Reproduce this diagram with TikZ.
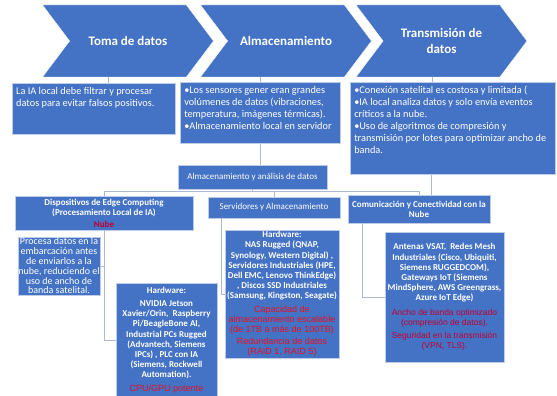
\documentclass[tikz,border=0pt]{standalone}
\usepackage{fontspec}
\setmainfont{Carlito}
\newfontfamily\arialfont{Liberation Sans}
\usepackage{tikz}
\usetikzlibrary{shapes.symbols}
\definecolor{officeblue}{RGB}{68,114,196}
\definecolor{boxedge}{RGB}{190,204,230}
\definecolor{linkgray}{RGB}{172,186,212}
\definecolor{alertred}{RGB}{232,16,32}
\definecolor{nubered}{RGB}{196,0,48}

\begin{document}
\begin{tikzpicture}
[x=1pt,y=-1pt,
 chev/.style={signal,signal to=east,signal from=west,signal pointer angle=106,
   fill=officeblue,draw=white,minimum width=171,minimum height=72,inner sep=0pt,
   text=white,align=center,font=\bfseries\fontsize{13}{15.5}\selectfont},
 panel/.style={rectangle,fill=officeblue,draw=boxedge,line width=0.5pt,text=white,inner sep=0pt},
 note/.style={panel,anchor=north west,inner sep=4pt,font=\fontsize{10.3}{12}\selectfont},
 head/.style={panel,align=center,font=\fontsize{9}{10.5}\selectfont},
 hw/.style={panel,align=center,font=\bfseries\fontsize{9}{10.2}\selectfont},
 link/.style={draw=linkgray,line width=0.7pt},]

%Top-aligned text inside the notes
\def\notebox#1#2#3{\parbox[t][#2pt][t]{#1pt}{\raggedright #3}}
%Red remarks, one line each
\def\redline#1{{\arialfont\mdseries\color{alertred}\fontsize{9}{10.5}\selectfont #1}}
\def\darkline#1{{\arialfont\mdseries\color{nubered}\fontsize{8.5}{10.5}\selectfont #1}}

\useasboundingbox (0,0) rectangle (557,396);

%Process chevrons
\node[chev] (toma) at (128,41) {Toma de datos};
\node[chev] (alma) at (286,41) {Almacenamiento};
\node[chev] (trans) at (441.5,41) {Transmisión de\\datos};

%Notes under the chevrons
\node[note] (tomanote) at (12,83) {\notebox{155}{43}{La IA local debe filtrar y procesar\\
  datos para evitar falsos positivos.}};
\node[note] (almanote) at (180,82) {\notebox{152}{53}{•Los sensores gener eran grandes\\
  volúmenes de datos (vibraciones,\\ temperatura, imágenes térmicas).\\
  •Almacenamiento local en servidor}};
\node[note] (transnote) at (350,82) {\notebox{197}{84}{•Conexión satelital es costosa y limitada (\\
  •IA local analiza datos y solo envía eventos\\ críticos a la nube.\\
  •Uso de algoritmos de compresión y\\ transmisión por lotes para optimizar ancho de\\ banda.}};

%Storage and analysis tree
\node[head,minimum width=149,minimum height=24] (analisis) at (252.5,177) {Almacenamiento y análisis de datos};

\node[head,font=\bfseries\fontsize{9}{10}\selectfont,minimum width=178,minimum height=34] (edge) at (104,213)
  {Dispositivos de Edge Computing\\(Procesamiento Local de IA)\\[2pt]{\color{nubered}Nube}};
\node[head,minimum width=132,minimum height=21] (serv) at (274,207.5) {Servidores y Almacenamiento};
\node[head,font=\bfseries\fontsize{9}{10}\selectfont,minimum width=142,minimum height=28] (com) at (419,209)
  {Comunicación y Conectividad con la\\Nube};

%Leaves
\node[head,font=\fontsize{10}{9.8}\selectfont,minimum width=82,minimum height=58] (procesa) at (59,266)
  {Procesa datos en la\\embarcación antes\\de enviarlos a la\\nube, reduciendo el\\uso de ancho de\\banda satelital.};
\node[hw,minimum width=101,minimum height=114] (edgehw) at (166.5,340)
  {Hardware:\\[3pt]NVIDIA Jetson\\Xavier/Orin,\ \ Raspberry\\Pi/BeagleBone AI,\\Industrial PCs Rugged\\
   (Advantech, Siemens\\IPCs) , PLC con IA\\(Siemens, Rockwell\\Automation).\\[3pt]
   \redline{CPU/GPU potente}};
\node[hw,minimum width=114,minimum height=128] (servhw) at (282,294)
  {Hardware:\\NAS Rugged (QNAP,\\Synology, Western Digital) ,\\Servidores Industriales (HPE,\\
   Dell EMC, Lenovo ThinkEdge)\\, Discos SSD Industriales\\(Samsung, Kingston, Seagate)\\[3pt]
   \redline{Capacidad de}\\\redline{almacenamiento escalable}\\\redline{(de 1TB a más de 100TB)}\\[2pt]
   \redline{Redundancia de datos}\\\redline{(RAID 1, RAID 5)}};
\node[hw,minimum width=119,minimum height=130] (comhw) at (444.5,297)
  {Antenas VSAT,\ \ Redes Mesh\\Industriales (Cisco, Ubiquiti,\\Siemens RUGGEDCOM),\\Gateways IoT (Siemens\\
   MindSphere, AWS Greengrass,\\Azure IoT Edge)\\[4pt]
   \darkline{Ancho de banda optimizado}\\\darkline{(compresión de datos).}\\[3pt]
   \darkline{Seguridad en la transmisión}\\\darkline{(VPN, TLS).}};

%Connectors
\draw[link] (tomanote.north west) ++(96,0) coordinate (t1) -- (t1 |- toma.south);
\draw[link] (almanote.north west) ++(80,0) coordinate (t2) -- (t2 |- alma.south);
\draw[link] (transnote.north west) ++(82,0) coordinate (t3) -- (t3 |- trans.south);
\draw[link] (almanote.south west) ++(80,0) coordinate (a1) -- (a1 |- analisis.north);
\draw[link] (transnote.south west) ++(81,0) coordinate (a2) -- (a2 |- com.north);

\draw[link] (analisis.south) -- ++(0,2.5) -| (edge.north);
\draw[link] (analisis.south) -- ++(0,2.5) -| (serv.north);
\draw[link] (analisis.south) -- ++(0,2.5) -| (com.north);

\draw[link] (edge.south) |- (procesa.east);
\draw[link] (edge.south) |- (edgehw.west);
\draw[link] (serv.south west) ++(14,0) coordinate (s1) |- (servhw.west);
\draw[link] (com.south west) ++(15,0) coordinate (c1) |- (comhw.west);

\end{tikzpicture}
\end{document}
